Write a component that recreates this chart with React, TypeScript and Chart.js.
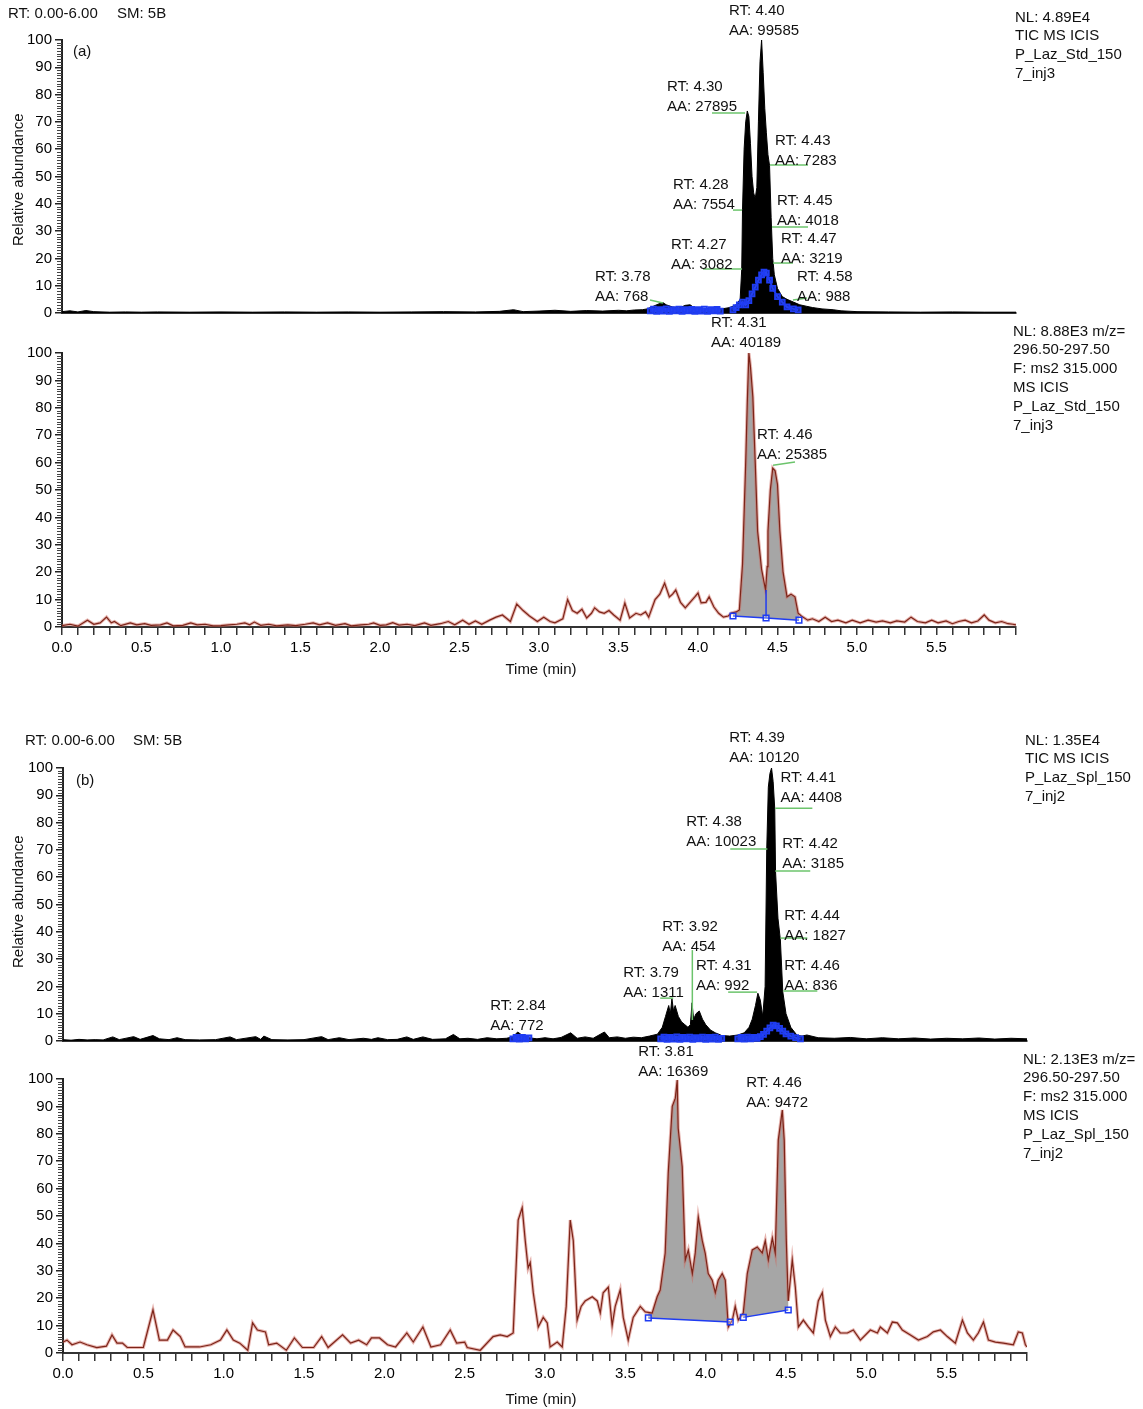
import React, { useEffect, useRef } from 'react';
import { Chart, registerables } from 'chart.js';

Chart.register(...registerables);

const FONT = '"Liberation Sans", Arial, Helvetica, sans-serif';
Chart.defaults.font.family = FONT;
Chart.defaults.color = '#000';

// ---------------- axis ticks ----------------
const TIME_TICKS = Array.from({ length: 61 }, (_, i) => i / 10);
const ABUNDANCE_TICKS = [0, 10, 20, 30, 40, 50, 60, 70, 80, 90, 100];

// ---------------- (a) TIC, standard ----------------
const stdTicTime = [0, 0.05, 0.1, 0.15, 0.2, 0.3, 0.4, 0.5, 0.6, 0.8, 1.0, 1.2, 1.4, 1.6, 1.8, 2.0, 2.2, 2.4, 2.6, 2.75, 2.84, 2.9, 3.0, 3.1, 3.2, 3.3, 3.4, 3.5, 3.55, 3.6, 3.65, 3.68, 3.72, 3.76, 3.78, 3.8, 3.84, 3.88, 3.92, 3.95, 3.98, 4.02, 4.06, 4.1, 4.15, 4.2, 4.24, 4.265, 4.275, 4.28, 4.29, 4.30, 4.31, 4.32, 4.33, 4.34, 4.35, 4.36, 4.37, 4.38, 4.39, 4.40, 4.41, 4.42, 4.43, 4.44, 4.45, 4.46, 4.47, 4.48, 4.50, 4.53, 4.56, 4.60, 4.64, 4.68, 4.72, 4.78, 4.85, 4.9, 5.0, 5.2, 5.4, 5.6, 5.8, 6.0];
const stdTicValue = [0.5, 0.8, 0.4, 0.9, 0.5, 0.3, 0.4, 0.3, 0.4, 0.3, 0.4, 0.3, 0.4, 0.3, 0.4, 0.3, 0.4, 0.5, 0.4, 0.6, 1.2, 0.5, 0.7, 1.0, 0.6, 0.9, 0.7, 1.0, 0.8, 1.1, 1.2, 1.5, 2.5, 3.5, 3.8, 3.0, 2.2, 1.8, 2.8, 3.0, 1.8, 1.2, 1.0, 1.2, 1.5, 2.0, 3.0, 5, 16, 38, 60, 70, 74, 72, 62, 50, 44, 42, 46, 70, 92, 100, 88, 75, 66, 58, 54, 35, 20, 14, 9, 6, 5, 4, 3, 2.5, 2, 1.5, 1.2, 0.8, 0.5, 0.4, 0.3, 0.4, 0.3, 0.3];
const stdTicMarkTime = [3.70, 3.72, 3.74, 3.76, 3.78, 3.80, 3.82, 3.84, 3.86, 3.88, 3.90, 3.92, 3.94, 3.96, 3.98, 4.00, 4.02, 4.04, 4.06, 4.08, 4.10, 4.12, 4.14, 4.18, 4.22, 4.24, 4.26, 4.28, 4.30, 4.32, 4.34, 4.36, 4.38, 4.40, 4.415, 4.43, 4.45, 4.47, 4.50, 4.53, 4.56, 4.60, 4.63];
const stdTicMarkValue = [0.8, 1.4, 0.6, 1.2, 0.7, 1.5, 0.6, 1.2, 0.8, 1.4, 0.6, 1.2, 0.8, 1.3, 0.6, 1.2, 0.7, 1.4, 0.6, 1.2, 0.8, 1.3, 0.7, null, 1.1, 2.0, 3.0, 4.0, 3.0, 4.5, 7.0, 9.5, 12, 14, 15, 14.6, 12, 9, 6, 4, 2.2, 1.5, 1.1];
const stdTicRt = ['4.40', '4.30', '4.43', '4.28', '4.45', '4.27', '4.47', '3.78', '4.58'];
const stdTicAa = ['99585', '27895', '7283', '7554', '4018', '3082', '3219', '768', '988'];
const stdTicLabelTime = [4.195, 3.805, 4.484, 3.843, 4.497, 3.83, 4.522, 3.352, 4.623];
const stdTicLabelValue = [110.6, 82.8, 63.0, 46.9, 41.0, 24.9, 27.1, 13.2, 13.2];
const stdTicLeaders = [
  [4.088, 73.3, 4.296, 73.3],
  [4.453, 54.2, 4.692, 54.2],
  [4.22, 37.7, 4.277, 37.7],
  [4.465, 31.5, 4.692, 31.5],
  [4.031, 16.1, 4.277, 16.1],
  [4.472, 18.3, 4.597, 18.3],
  [3.698, 4.8, 3.78, 3.7],
  [4.597, 4.8, 4.686, 5.5],
];

// ---------------- (a) MS2, standard ----------------
const stdMsTime = [
  0, 0.05, 0.1, 0.16, 0.2, 0.24, 0.28, 0.31, 0.33, 0.37,
  0.43, 0.47, 0.52, 0.56, 0.62, 0.66, 0.7, 0.76, 0.81, 0.85,
  0.9, 0.95, 1.0, 1.05, 1.1, 1.15, 1.18, 1.21, 1.25, 1.3,
  1.35, 1.42, 1.47, 1.53, 1.58, 1.62, 1.67, 1.72, 1.78, 1.82,
  1.88, 1.93, 1.96, 2.0, 2.04, 2.08, 2.12, 2.17, 2.22, 2.28,
  2.32, 2.38, 2.43, 2.47, 2.52, 2.56, 2.6, 2.64, 2.69, 2.73,
  2.77, 2.82, 2.86, 2.9, 2.94, 2.99, 3.03, 3.07, 3.1, 3.15,
  3.18, 3.21, 3.24, 3.27, 3.3, 3.33, 3.35, 3.38, 3.41, 3.44,
  3.47, 3.51, 3.54, 3.57, 3.61, 3.64, 3.67, 3.69, 3.73, 3.76,
  3.79, 3.82, 3.84, 3.86, 3.89, 3.92, 3.95, 3.98, 4.0, 4.02,
  4.05, 4.07, 4.10, 4.13, 4.16, 4.19, 4.21, 4.24, 4.26, 4.28,
  4.30, 4.31, 4.32, 4.33, 4.345, 4.36, 4.375, 4.40, 4.425, 4.435,
  4.44, 4.455, 4.47, 4.485, 4.50, 4.515, 4.535, 4.56, 4.585, 4.61,
  4.63, 4.65, 4.69, 4.72, 4.76, 4.8, 4.84, 4.88, 4.93, 4.97,
  5.02, 5.07, 5.12, 5.16, 5.21, 5.25, 5.3, 5.34, 5.38, 5.43,
  5.47, 5.51, 5.56, 5.6, 5.64, 5.68, 5.72, 5.76, 5.8, 5.83,
  5.87, 5.91, 5.95, 5.98, 6.0,
];
const stdMsValue = [
  0.5, 1.0, 0.3, 2.5, 1.0, 1.5, 3.6, 1.5, 2.0, 0.5,
  1.5, 0.8, 1.2, 0.6, 0.8, 1.5, 0.4, 0.6, 1.5, 0.8,
  1.0, 0.4, 0.5, 0.8, 1.0, 1.5, 0.8, 1.8, 0.6, 1.0,
  0.4, 0.8, 0.5, 1.0, 1.5, 0.8, 1.5, 0.6, 1.2, 0.4,
  0.8, 1.0, 1.5, 0.6, 0.8, 1.6, 0.7, 1.0, 0.5, 1.5,
  0.6, 1.2, 2.0, 0.8, 2.5, 1.0, 2.2, 1.0, 2.5, 3.6,
  4.4, 2.0, 8.4, 6.0, 4.0, 2.0, 3.6, 2.0, 1.5, 3.0,
  10, 6, 5, 6.5, 3.3, 5, 7, 5.5, 5, 6,
  4.4, 2.5, 8.7, 3.3, 5, 4.4, 5.5, 3.6, 10, 12,
  16, 11, 12, 13.5, 9, 7, 9, 11, 12.4, 8.8,
  9, 11, 7.3, 5, 3.6, 4, 5.1, 5.5, 6.2, 23,
  60, 82, 100, 95, 84, 60, 35, 21, 13.5, 22,
  35, 50, 58, 57, 52, 35, 20, 11, 12, 11,
  5, 4, 2.5, 3, 2, 3.6, 2, 2.5, 1.5, 2.5,
  1.5, 2.5, 1.8, 2.2, 1.5, 2.2, 1.8, 3.6, 2, 1.5,
  2.5, 1.5, 2.2, 1.2, 2, 2.5, 1.5, 2.2, 4.4, 2.5,
  1.5, 2, 1.2, 1.0, 0.8,
];
const stdMsMarkTime = [4.22, 4.428, 4.635];
const stdMsMarkValue = [4, 3.3, 2.5];
const stdMsSplitTime = [4.428, 4.428];
const stdMsSplitValue = [3.3, 13.5];
const stdMsRt = ['4.31', '4.46'];
const stdMsAa = ['40189', '25385'];
const stdMsLabelTime = [4.082, 4.371];
const stdMsLabelValue = [110.9, 70.1];
const stdMsLeaders = [[4.472, 59, 4.61, 60.2]];

// ---------------- (b) TIC, sample ----------------
const splTicTime = [
  0, 0.05, 0.1, 0.15, 0.2, 0.25, 0.31, 0.35, 0.44, 0.48,
  0.56, 0.6, 0.66, 0.71, 0.76, 0.85, 0.95, 1.04, 1.08, 1.2,
  1.23, 1.25, 1.3, 1.4, 1.5, 1.61, 1.65, 1.72, 1.78, 1.87,
  1.92, 1.96, 2.02, 2.08, 2.14, 2.18, 2.24, 2.3, 2.38, 2.43,
  2.47, 2.52, 2.58, 2.64, 2.7, 2.76, 2.8, 2.83, 2.86, 2.9,
  2.95, 3.0, 3.05, 3.1, 3.16, 3.2, 3.25, 3.3, 3.37, 3.4,
  3.45, 3.5, 3.55, 3.6, 3.65, 3.7, 3.73, 3.75, 3.77, 3.78,
  3.79, 3.80, 3.81, 3.83, 3.85, 3.87, 3.89, 3.905, 3.915, 3.925,
  3.94, 3.96, 3.98, 4.0, 4.03, 4.06, 4.1, 4.15, 4.2, 4.24,
  4.27, 4.29, 4.31, 4.325, 4.34, 4.355, 4.37, 4.38, 4.39, 4.40,
  4.41, 4.42, 4.43, 4.435, 4.45, 4.465, 4.48, 4.50, 4.53, 4.57,
  4.6, 4.63, 4.7, 4.8, 4.9, 5.0, 5.1, 5.2, 5.3, 5.4,
  5.5, 5.6, 5.7, 5.8, 5.9, 6.0,
];
const splTicValue = [
  0.5, 0.3, 0.6, 0.4, 0.5, 0.4, 1.5, 0.5, 1.6, 0.6,
  2.0, 0.8, 0.5, 1.2, 0.5, 0.4, 0.5, 1.5, 0.5, 1.6,
  0.6, 1.8, 0.5, 0.4, 0.5, 1.6, 0.5, 1.2, 0.5, 1.0,
  0.6, 1.2, 0.5, 0.6, 1.5, 0.6, 1.5, 0.6, 0.8, 2.4,
  0.8, 1.0, 0.6, 1.2, 0.8, 1.0, 1.5, 3.3, 2.0, 1.2,
  0.8, 1.2, 0.8, 1.3, 3.0, 1.0, 1.5, 1.0, 3.3, 1.2,
  1.5, 1.0, 1.4, 1.2, 1.8, 2.5, 5, 9, 13, 10,
  15.5, 11, 13, 9, 7, 6, 5, 6, 14, 8,
  10, 11, 8, 6, 4, 3, 2, 1.8, 2.2, 3,
  5, 8, 13, 17.5, 15, 9, 20, 70, 93, 98,
  100, 95, 85, 62, 45, 37, 18, 10, 5, 2,
  1.8, 2.2, 1.2, 1.0, 1.3, 0.8, 1.2, 0.8, 1.1, 0.7,
  1.0, 0.8, 1.1, 0.7, 1.0, 0.8,
];
const splTicMarkTime = [2.80, 2.82, 2.84, 2.86, 2.88, 2.90, 2.95, 3.72, 3.74, 3.76, 3.78, 3.80, 3.82, 3.84, 3.86, 3.88, 3.90, 3.92, 3.94, 3.96, 3.98, 4.00, 4.02, 4.04, 4.06, 4.08, 4.10, 4.15, 4.20, 4.22, 4.24, 4.26, 4.28, 4.30, 4.32, 4.34, 4.36, 4.38, 4.40, 4.42, 4.44, 4.46, 4.48, 4.50, 4.53, 4.56, 4.59];
const splTicMarkValue = [0.8, 1.3, 0.7, 1.3, 0.8, 1.1, null, 0.8, 1.4, 0.6, 1.3, 0.7, 1.5, 0.6, 1.3, 0.8, 1.4, 0.6, 1.2, 0.8, 1.4, 0.6, 1.3, 0.7, 1.4, 0.6, 1.0, null, 0.8, 1.3, 0.7, 1.4, 0.8, 1.3, 1.0, 1.6, 2.4, 3.6, 4.8, 5.8, 5.5, 4.6, 3.6, 2.6, 1.8, 1.2, 0.8];
const splTicRt = ['4.39', '4.41', '4.38', '4.42', '4.44', '3.92', '3.79', '4.31', '4.46', '2.84'];
const splTicAa = ['10120', '4408', '10023', '3185', '1827', '454', '1311', '992', '836', '772'];
const splTicLabelTime = [4.147, 4.465, 3.879, 4.477, 4.489, 3.73, 3.487, 3.94, 4.489, 2.659];
const splTicLabelValue = [111, 96.3, 80.2, 72.2, 45.8, 41.8, 24.9, 27.5, 27.5, 12.8];
const splTicLeaders = [
  [4.433, 85.3, 4.664, 85.3],
  [4.153, 70.3, 4.384, 70.3],
  [4.433, 62.3, 4.651, 62.3],
  [4.465, 37.7, 4.633, 37.7],
  [3.917, 33.3, 3.917, 7.7],
  [3.717, 15.7, 3.798, 15.7],
  [4.14, 17.9, 4.32, 17.9],
  [4.483, 18.3, 4.695, 18.3],
];

// ---------------- (b) MS2, sample ----------------
const splMsTime = [
  0.0, 0.025, 0.056, 0.106, 0.149, 0.21, 0.27, 0.305, 0.336, 0.37,
  0.40, 0.50, 0.56, 0.60, 0.65, 0.685, 0.73, 0.76, 0.85, 0.92,
  0.98, 1.02, 1.06, 1.10, 1.15, 1.18, 1.21, 1.26, 1.28, 1.33,
  1.39, 1.44, 1.49, 1.56, 1.61, 1.65, 1.74, 1.79, 1.84, 1.89,
  1.92, 1.97, 2.02, 2.07, 2.14, 2.18, 2.24, 2.29, 2.35, 2.41,
  2.45, 2.50, 2.516, 2.597, 2.677, 2.721, 2.765, 2.802, 2.833, 2.858,
  2.877, 2.895, 2.908, 2.927, 2.958, 2.989, 3.014, 3.032, 3.076, 3.107,
  3.132, 3.157, 3.176, 3.20, 3.225, 3.25, 3.294, 3.325, 3.344, 3.362,
  3.394, 3.418, 3.437, 3.468, 3.487, 3.518, 3.549, 3.593, 3.624, 3.667,
  3.698, 3.717, 3.748, 3.767, 3.792, 3.811, 3.823, 3.829, 3.854, 3.873,
  3.892, 3.917, 3.935, 3.954, 3.979, 3.997, 4.016, 4.041, 4.06, 4.078,
  4.103, 4.122, 4.141, 4.166, 4.184, 4.203, 4.234, 4.259, 4.290, 4.321,
  4.352, 4.371, 4.390, 4.415, 4.433, 4.452, 4.477, 4.489, 4.502, 4.514,
  4.539, 4.558, 4.577, 4.608, 4.639, 4.670, 4.701, 4.726, 4.745, 4.776,
  4.807, 4.838, 4.882, 4.919, 4.963, 5.025, 5.069, 5.087, 5.131, 5.162,
  5.193, 5.224, 5.274, 5.324, 5.380, 5.417, 5.461, 5.504, 5.554, 5.598,
  5.629, 5.666, 5.697, 5.729, 5.760, 5.803, 5.853, 5.915, 5.946, 5.971,
  5.990, 6.0,
];
const splMsValue = [
  4.0, 4.7, 3.0, 4.0, 3.0, 2.0, 2.5, 6.6, 3.6, 3.6,
  2.0, 2.0, 15.7, 4.7, 4.7, 8.4, 6.0, 2.2, 2.2, 3.0,
  4.7, 8.4, 4.7, 3.6, 1.0, 11.0, 8.4, 7.7, 3.0, 3.6,
  1.0, 5.5, 2.0, 2.0, 6.0, 2.0, 6.6, 3.6, 4.7, 3.0,
  5.5, 5.5, 3.0, 2.2, 7.3, 4.0, 9.5, 2.2, 3.0, 8.4,
  3.6, 4.0, 2.0, 1.0, 6.0, 6.6, 6.0, 7.3, 48.5, 53,
  41, 31, 33, 22, 9.5, 13, 11, 2.2, 4.0, 2.2,
  17, 48.5, 41, 12, 17, 19, 20.5, 19, 14.6, 22,
  24, 10, 17, 23, 13, 4.7, 13, 17, 15, 14.6,
  20.5, 23, 36.5, 65.7, 90, 93, 99.6, 82, 68, 34,
  37.6, 29, 36.5, 49.6, 41, 36.5, 29, 26.6, 22, 26.6,
  29, 26.6, 9.5, 12, 17, 12, 14.6, 29, 37.6, 38.7,
  36.5, 41, 34, 42, 36.5, 77.7, 88.7, 77.7, 41, 19,
  34, 24, 9.5, 12, 9.5, 7.3, 19, 22, 12, 6.0,
  9.5, 7.3, 7.3, 8.4, 4.7, 8.4, 7.3, 9.5, 7.3, 11.3,
  11, 8.4, 6.6, 4.7, 6.0, 7.7, 8.4, 6.0, 3.6, 12,
  7.3, 4.7, 7.3, 11.3, 4.7, 4.0, 3.6, 3.0, 7.7, 7.3,
  3.0, 2.2,
];
const splMsMarkTime = [3.643, 4.153, 4.19, 4.234, 4.514];
const splMsMarkValue = [12.8, 11.3, null, 13, 15.7];
const splMsRt = ['3.81', '4.46'];
const splMsAa = ['16369', '9472'];
const splMsLabelTime = [3.58, 4.253];
const splMsLabelValue = [109.9, 98.5];

// ---------------- helpers ----------------
type Panel = {
  kind: 'tic' | 'ms';
  time: number[];
  value: number[];
  markTime: number[];
  markValue: (number | null)[];
  splitTime?: number[];
  splitValue?: number[];
  rt: string[];
  aa: string[];
  labelTime: number[];
  labelValue: number[];
  leaders: number[][];
  canvasTop: number;
  canvasHeight: number;
  areaTop: number;
  areaBottom: number;
  areaLeft: number;
  areaRight: number;
  showTimeAxis: boolean;
};

const pts = (ts: number[], vs: (number | null)[]) => ts.map((t, i) => ({ x: t, y: vs[i] }));

const interp = (ts: number[], vs: number[], t: number) => {
  if (t <= ts[0]) return vs[0];
  for (let i = 1; i < ts.length; i++) {
    if (ts[i] >= t) {
      const f = (t - ts[i - 1]) / (ts[i] - ts[i - 1]);
      return vs[i - 1] + f * (vs[i] - vs[i - 1]);
    }
  }
  return vs[vs.length - 1];
};

const BLUE = '#1f3cf2';

function buildConfig(p: Panel): any {
  const xAxisH = p.showTimeAxis ? 30 : 2;
  const datasets: any[] = [];
  if (p.kind === 'tic') {
    datasets.push({
      data: pts(p.markTime, p.markValue), borderColor: BLUE, borderWidth: 2,
      pointStyle: 'rect', pointRadius: 3.5, pointBorderWidth: 1.8, pointBorderColor: BLUE,
      pointBackgroundColor: 'rgba(40,70,245,0.6)', spanGaps: false, clip: false, fill: false, order: 0,
    });
    datasets.push({
      data: pts(p.time, p.value), borderColor: '#000', borderWidth: 1, pointRadius: 0,
      fill: 'origin', backgroundColor: '#000', order: 1,
    });
  } else {
    datasets.push({
      data: pts(p.markTime, p.markValue), borderColor: BLUE, borderWidth: 1.5,
      pointStyle: 'rect', pointRadius: 4, pointBorderWidth: 1.5, pointBorderColor: BLUE,
      pointBackgroundColor: 'rgba(255,255,255,0.3)', spanGaps: false, clip: false, fill: false, order: 0,
    });
    if (p.splitTime && p.splitValue) {
      datasets.push({
        data: pts(p.splitTime, p.splitValue), borderColor: BLUE, borderWidth: 1.5,
        pointRadius: 0, fill: false, order: 0,
      });
    }
    datasets.push({
      data: pts(p.time, p.value), borderColor: '#7c2418', borderWidth: 1.2, pointRadius: 0,
      fill: false, order: 1,
    });
    datasets.push({
      data: pts(p.time, p.value), borderColor: 'rgba(205,105,95,0.5)', borderWidth: 3.2, pointRadius: 0,
      fill: false, order: 2,
    });
  }

  const fillPlugin = {
    id: 'peakFill',
    beforeDatasetsDraw(chart: any) {
      if (p.kind !== 'ms') return;
      const { ctx, chartArea } = chart;
      const x = chart.scales.x;
      const y = chart.scales.y;
      const segs: number[][][] = [];
      let cur: number[][] = [];
      p.markTime.forEach((t, i) => {
        const v = p.markValue[i];
        if (v == null) { if (cur.length) segs.push(cur); cur = []; } else cur.push([t, v]);
      });
      if (cur.length) segs.push(cur);
      ctx.save();
      ctx.beginPath();
      ctx.rect(chartArea.left, chartArea.top, chartArea.width, chartArea.height);
      ctx.clip();
      ctx.fillStyle = '#a6a6a6';
      segs.forEach((seg) => {
        if (seg.length < 2) return;
        const t0 = seg[0][0];
        const t1 = seg[seg.length - 1][0];
        ctx.beginPath();
        ctx.moveTo(x.getPixelForValue(t0), y.getPixelForValue(interp(p.time, p.value, t0)));
        p.time.forEach((t, i) => {
          if (t > t0 && t < t1) ctx.lineTo(x.getPixelForValue(t), y.getPixelForValue(p.value[i]));
        });
        ctx.lineTo(x.getPixelForValue(t1), y.getPixelForValue(interp(p.time, p.value, t1)));
        for (let k = seg.length - 1; k >= 0; k--) ctx.lineTo(x.getPixelForValue(seg[k][0]), y.getPixelForValue(seg[k][1]));
        ctx.closePath();
        ctx.fill();
      });
      ctx.restore();
    },
  };

  const annotPlugin = {
    id: 'peakLabels',
    afterDatasetsDraw(chart: any) {
      const { ctx } = chart;
      const x = chart.scales.x;
      const y = chart.scales.y;
      ctx.save();
      ctx.strokeStyle = '#6cc46c';
      ctx.lineWidth = 1.5;
      p.leaders.forEach(([t0, v0, t1, v1]) => {
        ctx.beginPath();
        ctx.moveTo(x.getPixelForValue(t0), y.getPixelForValue(v0));
        ctx.lineTo(x.getPixelForValue(t1), y.getPixelForValue(v1));
        ctx.stroke();
      });
      ctx.restore();
    },
    afterDraw(chart: any) {
      const { ctx, chartArea } = chart;
      const x = chart.scales.x;
      const y = chart.scales.y;
      ctx.save();
      // minor ticks on abundance axis
      ctx.strokeStyle = '#444';
      ctx.lineWidth = 1;
      for (let v = 1; v < 100; v++) {
        if (v % 10 === 0) continue;
        const py = Math.round(y.getPixelForValue(v)) + 0.5;
        ctx.beginPath();
        ctx.moveTo(chartArea.left - 5, py);
        ctx.lineTo(chartArea.left, py);
        ctx.stroke();
      }
      ctx.fillStyle = '#111';
      ctx.font = `15px ${FONT}`;
      ctx.textBaseline = 'middle';
      ctx.textAlign = 'left';
      p.rt.forEach((rt, i) => {
        const px = x.getPixelForValue(p.labelTime[i]);
        const py = y.getPixelForValue(p.labelValue[i]);
        ctx.fillText(`RT: ${rt}`, px, py);
        ctx.fillText(`AA: ${p.aa[i]}`, px, py + 20);
      });
      ctx.restore();
    },
  };

  return {
    type: 'line',
    data: { datasets },
    plugins: [fillPlugin, annotPlugin],
    options: {
      animation: false,
      responsive: false,
      maintainAspectRatio: false,
      devicePixelRatio: 1,
      events: [],
      layout: {
        autoPadding: false,
        padding: {
          left: 0,
          right: 1143 - p.areaRight,
          top: p.areaTop - p.canvasTop,
          bottom: p.canvasTop + p.canvasHeight - p.areaBottom - xAxisH,
        },
      },
      plugins: { legend: { display: false }, tooltip: { enabled: false }, title: { display: false } },
      scales: {
        x: {
          type: 'linear', min: 0, max: 6,
          afterFit: (s: any) => { s.height = xAxisH; },
          afterBuildTicks: (s: any) => { s.ticks = TIME_TICKS.map((v) => ({ value: v })); },
          ticks: {
            display: p.showTimeAxis, autoSkip: false, maxRotation: 0, minRotation: 0, padding: 4,
            color: '#000', font: { family: FONT, size: 15 },
            callback: (val: any) => {
              const n = Math.round(Number(val) * 10);
              return n % 5 === 0 && n < 60 ? (n / 10).toFixed(1) : '';
            },
          },
          grid: { display: p.showTimeAxis, drawOnChartArea: false, drawTicks: true, tickLength: 8, color: '#333', lineWidth: 1.5 },
          border: { display: true, color: '#333', width: 2 },
        },
        y: {
          type: 'linear', min: 0, max: 100,
          afterFit: (s: any) => { s.width = p.areaLeft; },
          afterBuildTicks: (s: any) => { s.ticks = ABUNDANCE_TICKS.map((v) => ({ value: v })); },
          ticks: { padding: 3, color: '#000', font: { family: FONT, size: 15 }, callback: (v: any) => String(v) },
          grid: { drawOnChartArea: false, drawTicks: true, tickLength: 7, color: '#222', lineWidth: 1.5 },
          border: { display: true, color: '#222', width: 2 },
        },
      },
    },
  };
}

const panels: Panel[] = [
  {
    kind: 'tic', time: stdTicTime, value: stdTicValue, markTime: stdTicMarkTime, markValue: stdTicMarkValue,
    rt: stdTicRt, aa: stdTicAa, labelTime: stdTicLabelTime, labelValue: stdTicLabelValue, leaders: stdTicLeaders,
    canvasTop: 0, canvasHeight: 340, areaTop: 40, areaBottom: 313, areaLeft: 62, areaRight: 1016, showTimeAxis: false,
  },
  {
    kind: 'ms', time: stdMsTime, value: stdMsValue, markTime: stdMsMarkTime, markValue: stdMsMarkValue,
    splitTime: stdMsSplitTime, splitValue: stdMsSplitValue,
    rt: stdMsRt, aa: stdMsAa, labelTime: stdMsLabelTime, labelValue: stdMsLabelValue, leaders: stdMsLeaders,
    canvasTop: 310, canvasHeight: 378, areaTop: 353, areaBottom: 627, areaLeft: 62, areaRight: 1016, showTimeAxis: true,
  },
  {
    kind: 'tic', time: splTicTime, value: splTicValue, markTime: splTicMarkTime, markValue: splTicMarkValue,
    rt: splTicRt, aa: splTicAa, labelTime: splTicLabelTime, labelValue: splTicLabelValue, leaders: splTicLeaders,
    canvasTop: 724, canvasHeight: 340, areaTop: 768, areaBottom: 1041, areaLeft: 63, areaRight: 1027, showTimeAxis: false,
  },
  {
    kind: 'ms', time: splMsTime, value: splMsValue, markTime: splMsMarkTime, markValue: splMsMarkValue,
    rt: splMsRt, aa: splMsAa, labelTime: splMsLabelTime, labelValue: splMsLabelValue, leaders: [],
    canvasTop: 1040, canvasHeight: 369, areaTop: 1079, areaBottom: 1353, areaLeft: 63, areaRight: 1027, showTimeAxis: true,
  },
];

function PanelChart({ p }: { p: Panel }) {
  const ref = useRef<HTMLCanvasElement>(null);
  useEffect(() => {
    const c = ref.current;
    if (!c) return;
    const chart = new Chart(c, buildConfig(p));
    return () => chart.destroy();
  }, [p]);
  return (
    <canvas
      ref={ref}
      width={1143}
      height={p.canvasHeight}
      style={{ position: 'absolute', left: 0, top: p.canvasTop, width: 1143, height: p.canvasHeight }}
    />
  );
}

const textStyle: React.CSSProperties = {
  position: 'absolute', fontFamily: FONT, fontSize: 15, lineHeight: '18.8px', color: '#111', whiteSpace: 'pre',
};

function Txt({ x, y, children }: { x: number; y: number; children: React.ReactNode }) {
  return <div style={{ ...textStyle, left: x, top: y - 9.4 }}>{children}</div>;
}

function Block({ x, y, lines }: { x: number; y: number; lines: string[] }) {
  return (
    <div style={{ ...textStyle, left: x, top: y - 9.4 }}>
      {lines.map((l, i) => <div key={i}>{l}</div>)}
    </div>
  );
}

function YTitle({ bottom, clipTop }: { bottom: number; clipTop: number }) {
  return (
    <div style={{ position: 'absolute', left: 0, top: clipTop, width: 40, height: bottom - clipTop + 4, overflow: 'hidden' }}>
      <div
        style={{
          position: 'absolute', left: 10, top: bottom - clipTop, transform: 'rotate(-90deg)', transformOrigin: '0 0',
          fontFamily: FONT, fontSize: 15, lineHeight: '16px', whiteSpace: 'nowrap', color: '#111',
        }}
      >
        Relative abundance
      </div>
    </div>
  );
}

export default function App() {
  return (
    <div style={{ position: 'absolute', left: 0, top: 0, width: 1143, height: 1409, overflow: 'hidden', background: '#fff' }}>
      {panels.map((p, i) => <PanelChart key={i} p={p} />)}

      <Txt x={8} y={13}>RT: 0.00-6.00</Txt>
      <Txt x={117} y={13}>SM: 5B</Txt>
      <Txt x={73} y={51}>(a)</Txt>
      <YTitle bottom={246} clipTop={109} />
      <Block x={1015} y={17} lines={['NL: 4.89E4', 'TIC MS ICIS', 'P_Laz_Std_150', '7_inj3']} />
      <Block x={1013} y={331} lines={['NL: 8.88E3 m/z=', '296.50-297.50', 'F: ms2 315.000', 'MS ICIS', 'P_Laz_Std_150', '7_inj3']} />
      <div style={{ ...textStyle, left: 441, width: 200, textAlign: 'center', top: 669 - 9.4 }}>Time (min)</div>

      <Txt x={25} y={740}>RT: 0.00-6.00</Txt>
      <Txt x={133} y={740}>SM: 5B</Txt>
      <Txt x={76} y={780}>(b)</Txt>
      <YTitle bottom={968} clipTop={831} />
      <Block x={1025} y={740} lines={['NL: 1.35E4', 'TIC MS ICIS', 'P_Laz_Spl_150', '7_inj2']} />
      <Block x={1023} y={1059} lines={['NL: 2.13E3 m/z=', '296.50-297.50', 'F: ms2 315.000', 'MS ICIS', 'P_Laz_Spl_150', '7_inj2']} />
      <div style={{ ...textStyle, left: 441, width: 200, textAlign: 'center', top: 1399 - 9.4 }}>Time (min)</div>
    </div>
  );
}
